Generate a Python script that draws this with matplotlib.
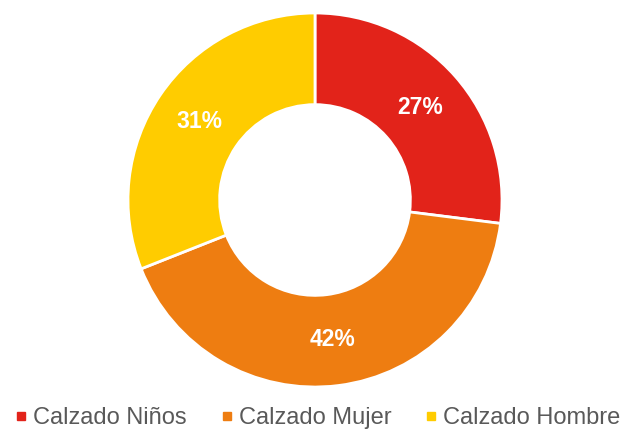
import matplotlib.pyplot as plt
from matplotlib.lines import Line2D

categories = ['Calzado Niños', 'Calzado Mujer', 'Calzado Hombre']
values = [27, 42, 31]
colors = ['#E2231A', '#EE7D11', '#FFCC00']

plt.rcParams['font.family'] = ['Liberation Sans', 'DejaVu Sans']

fig = plt.figure(figsize=(6.22, 4.30), dpi=100)
# pie: centre at (315, 200) px, outer radius 187 px
ax = fig.add_axes([(315 - 187) / 622, (430 - 387) / 430, 374 / 622, 374 / 430])
wedges, texts, autotexts = ax.pie(values, colors=colors, startangle=90, counterclock=False,
                                  radius=1, autopct='%1.0f%%', pctdistance=0.75,
                                  wedgeprops=dict(width=0.49, edgecolor='white', linewidth=2),
                                  textprops=dict(color='white', fontsize=16.5, fontweight='bold'))
ax.set_xlim(-1, 1)
ax.set_ylim(-1, 1)
ax.set_aspect('equal')
ax.axis('off')

handles = [Line2D([], [], marker='s', linestyle='none', markersize=6,
                  markerfacecolor=c, markeredgecolor=c) for c in colors]
fig.legend(handles, categories, loc='center', bbox_to_anchor=(0.51, 1 - 418 / 430), ncol=3,
           frameon=False, fontsize=17, labelcolor='#595959', handletextpad=0.2,
           columnspacing=1.4, handlelength=0.6, borderaxespad=0)

fig.savefig('out.png', dpi=100)
